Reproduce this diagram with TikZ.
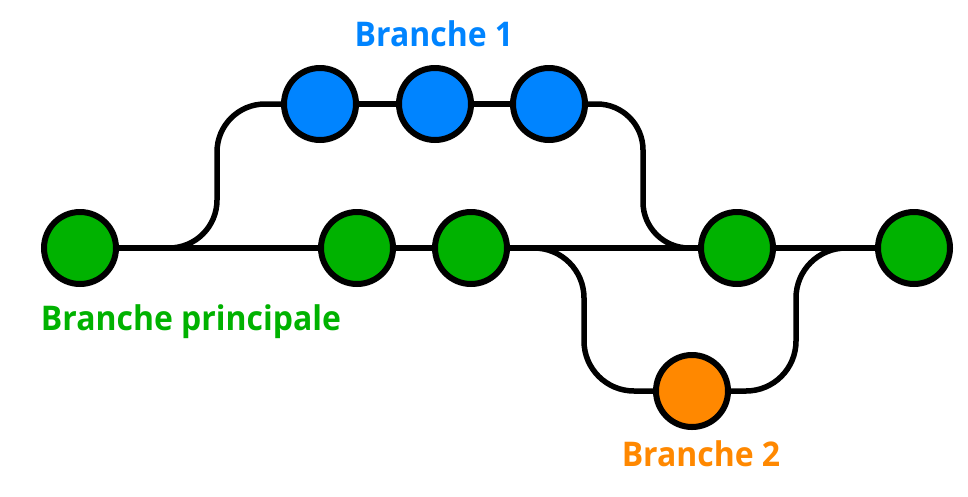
\documentclass[tikz,border=0pt]{standalone}
\usepackage{fontspec}
\newfontfamily\lblfont{Open Sans}[FakeStretch=0.94]
\usetikzlibrary{backgrounds}
\definecolor{cgreen}{HTML}{00B200}
\definecolor{cblue}{HTML}{0084FF}
\definecolor{corange}{HTML}{FF8800}
\tikzset{
  commit/.style={circle, draw=black, line width=6pt, minimum size=72pt, inner sep=0pt},
  gcommit/.style={commit, fill=cgreen},
  bcommit/.style={commit, fill=cblue},
  ocommit/.style={commit, fill=corange},
  link/.style={draw=black, line width=5.5pt},
  lbl/.style={font=\lblfont\bfseries\fontsize{34}{40}\selectfont, anchor=base, inner sep=0pt}
}
\begin{document}
\begin{tikzpicture}[x=1pt,y=-1pt]
\useasboundingbox (0,0) rectangle (968,496);
\node[gcommit] (g1) at (80,248) {};
\node[gcommit] (g2) at (357,248) {};
\node[gcommit] (g3) at (471,248) {};
\node[gcommit] (g4) at (737,248) {};
\node[gcommit] (g5) at (914,248) {};
\node[bcommit] (b1) at (320,104) {};
\node[bcommit] (b2) at (435,104) {};
\node[bcommit] (b3) at (549,104) {};
\node[ocommit] (o1) at (692,391) {};
\begin{scope}[on background layer]
\draw[link] (g1) -- (g2) -- (g3) -- (g4) -- (g5);
\draw[link, rounded corners=48pt] (g1) -- (217,248) -- (217,104) -- (b1);
\draw[link] (b1) -- (b2) -- (b3);
\draw[link, rounded corners=46pt] (b3) -- (643,104) -- (643,248) -- (g4);
\draw[link, rounded corners=50pt] (g3) -- (584,248) -- (584,391) -- (o1);
\draw[link, rounded corners=50pt] (o1) -- (796,391) -- (796,248) -- (g5);
\end{scope}
\node[lbl, text=cblue] (l1) at (434,46) {Branche 1};
\node[lbl, text=cgreen] (l0) at (191,330) {Branche principale};
\node[lbl, text=corange] (l2) at (701,466) {Branche 2};
\end{tikzpicture}
\end{document}
